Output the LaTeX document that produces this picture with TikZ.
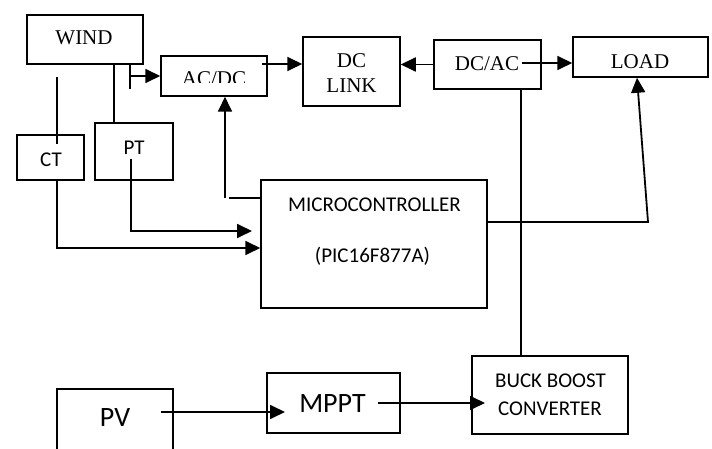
\documentclass[tikz,border=0pt]{standalone}
\usepackage{fontspec}
\setmainfont{Liberation Serif}
\newfontfamily\calfont{Carlito}
\usetikzlibrary{arrows.meta}
\begin{document}
\begin{tikzpicture}[x=1bp,y=-1bp,
  box/.style={draw,line width=1.5bp,inner sep=0pt},
  serif/.style={inner sep=0pt,anchor=base,font=\fontsize{21bp}{25bp}\selectfont},
  sans/.style={inner sep=0pt,anchor=base,font=\calfont\fontsize{21bp}{25bp}\selectfont},
  bigsans/.style={inner sep=0pt,anchor=base,font=\calfont\fontsize{28bp}{32bp}\selectfont},
  conn/.style={line width=1.8bp},
  arr/.style={conn,-{Triangle[length=15bp,width=14bp]}}]
\useasboundingbox (0,0) rectangle (712,449);

% boxes
\node[box,minimum width=116bp,minimum height=49bp] (wind) at (85,39.5) {};
\node[box,minimum width=106bp,minimum height=40bp] (acdc) at (214,76) {};
\node[box,minimum width=97bp,minimum height=69bp] (dclink) at (351.5,71.5) {};
\node[box,minimum width=107bp,minimum height=49bp] (dcac) at (487.5,64.5) {};
\node[box,minimum width=135bp,minimum height=40bp] (load) at (640.5,57) {};
\node[box,minimum width=67bp,minimum height=45bp] (ct) at (50.5,157.5) {};
\node[box,minimum width=78bp,minimum height=57bp] (pt) at (134,151.5) {};
\node[box,minimum width=226bp,minimum height=128bp] (micro) at (374,244) {};
\node[box,minimum width=156bp,minimum height=78bp] (buck) at (550,395) {};
\node[box,minimum width=133bp,minimum height=60bp] (mppt) at (333.5,403) {};
\node[inner sep=0pt,minimum width=116bp,minimum height=60bp] (pv) at (115,419) {};
\draw[line width=1.5bp] (pv.south west) -- (pv.north west) -- (pv.north east) -- (pv.south east);

% texts
\node[serif] (windt) at (84,45) {WIND};
\begin{scope}
  \clip (acdc.north west) rectangle (267,83);
  \node[serif] (acdct) at (214,86) {AC/DC};
\end{scope}
\node[serif] (dct) at (351.5,68) {DC};
\node[serif] (linkt) at (351.5,93) {LINK};
\node[serif] (dcact) at (487,70.5) {DC/AC};
\node[serif] (loadt) at (640,68.3) {LOAD};
\node[sans] (ctt) at (51,166.5) {CT};
\node[sans] (ptt) at (134,155) {PT};
\node[sans] (microt) at (374.5,211.5) {MICROCONTROLLER};
\node[sans] (pict) at (372.5,263) {(PIC16F877A)};
\node[sans] (buckt) at (550.5,387.3) {BUCK BOOST};
\node[sans] (convt) at (550,415.7) {CONVERTER};
\node[bigsans] (mpptt) at (332.5,412.7) {MPPT};
\node[bigsans] (pvt) at (115,426.7) {PV};

% reference coordinates
\coordinate (xa) at (114,0);
\coordinate (ctA) at (57,77);
\coordinate (ctB) at (57,144);
\coordinate (yct) at (0,248);
\coordinate (ptA) at (131,159);
\coordinate (ptB) at (252,231);
\coordinate (tk) at (130,89);
\coordinate (ad) at (262,64);
\coordinate (da) at (522,63);
\coordinate (xv) at (521,0);
\coordinate (yl) at (0,222);
\coordinate (cr) at (648,222);
\coordinate (lt) at (637,0);
\coordinate (ym) at (0,198);
\coordinate (mx) at (229,198);
\coordinate (av) at (225,198);
\coordinate (pa) at (161,412);
\coordinate (pb) at (285,412);
\coordinate (ma) at (378,403);
\coordinate (mb) at (485,403);

% connectors
\draw[conn] (wind.south -| xa) -- (pt.north -| xa);
\draw[conn] (ctA) -- (ctB);
\draw[arr] (ct.south -| ctA) |- (micro.west |- yct);
\draw[arr] (ptA) |- (ptB);
\draw[conn] (wind.south -| tk) -- (tk);
\draw[arr] (tk |- acdc.west) -- (acdc.west);
\draw[arr] (ad) -- (dclink.west |- ad);
\draw[arr] (dcac.west) -- (dclink.east |- dcac.west);
\draw[arr] (da) -- (load.west |- da);
\draw[conn] (dcac.south -| xv) -- (buck.north -| xv);
\draw[arr] (micro.east |- yl) -- (cr) -- (load.south -| lt);
\draw[conn] (micro.west |- ym) -- (mx);
\draw[arr] (av) -- (acdc.south -| av);
\draw[arr] (pa) -- (pb);
\draw[arr] (ma) -- (mb);
\end{tikzpicture}
\end{document}
